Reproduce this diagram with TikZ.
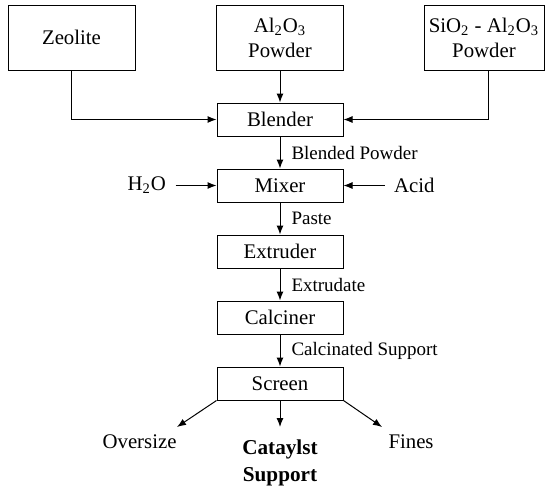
\documentclass[tikz,border=0pt]{standalone}
\usepackage{fontspec}
\setmainfont{Liberation Serif}
\usetikzlibrary{positioning,arrows.meta}

\begin{document}
\begin{tikzpicture}[x=0.5pt, y=-0.5pt, font=\fontsize{10.4}{12.5}\selectfont, line width=0.5pt,
  unit/.style={draw, minimum width=63pt, minimum height=16.5pt, inner sep=0pt},
  feed/.style={draw, minimum width=63.5pt, minimum height=32.5pt, inner sep=0pt, align=center},
  flow/.style={-{Latex[length=4.5pt, width=3.5pt]}},
  lbl/.style={right=5.5pt, inner sep=0pt, font=\fontsize{9.5}{11}\selectfont},
  side/.style={inner xsep=4.5pt, inner ysep=0pt},
  prod/.style={inner xsep=0pt, inner ysep=3.5pt},
  node distance=16pt]
\useasboundingbox (0,0) rectangle (545,487);
\node[feed] (zeo) at (71.5,37.5) {Zeolite};
\node[feed] (alo) at (280,37.5) {Al\textsubscript{2}O\textsubscript{3}\\Powder};
\node[feed, minimum width=60pt] (sio) at (484,37.5) {SiO\textsubscript{2} - Al\textsubscript{2}O\textsubscript{3}\\Powder};
\node[unit] (blend) at (280,119.5) {Blender};
\node[unit, below=of blend] (mix) {Mixer};
\node[unit, below=of mix] (extr) {Extruder};
\node[unit, below=of extr] (calc) {Calciner};
\node[unit, below=of calc] (scr) {Screen};
\node[side, left=20.5pt of mix] (h2o) {H\textsubscript{2}O};
\node[side, right=20.5pt of mix] (acid) {Acid};
\node[prod, anchor=north east] (over) at (177,427) {Oversize};
\node[prod, anchor=north west, inner xsep=3pt] (fines) at (382,427) {Fines};
\node[anchor=north, align=center, inner xsep=0pt, inner ysep=6pt,
  font=\fontsize{10.6}{13.5}\selectfont\bfseries] (cat) at (280,427) {Cataylst\\Support};
\draw[flow] (zeo.south) |- (blend.west);
\draw[flow] (alo) -- (blend);
\draw[flow] ([xshift=2pt]sio.south) |- (blend.east);
\draw[flow] (blend) -- node[lbl] {Blended Powder} (mix);
\draw[flow] (h2o) -- (mix);
\draw[flow] (acid) -- (mix);
\draw[flow] (mix) -- node[lbl] {Paste} (extr);
\draw[flow] (extr) -- node[lbl] {Extrudate} (calc);
\draw[flow] (calc) -- node[lbl] {Calcinated Support} (scr);
\draw[flow] (scr.south west) -- (over.north east);
\draw[flow] (scr) -- (cat);
\draw[flow] (scr.south east) -- (fines.north west);
\end{tikzpicture}
\end{document}
